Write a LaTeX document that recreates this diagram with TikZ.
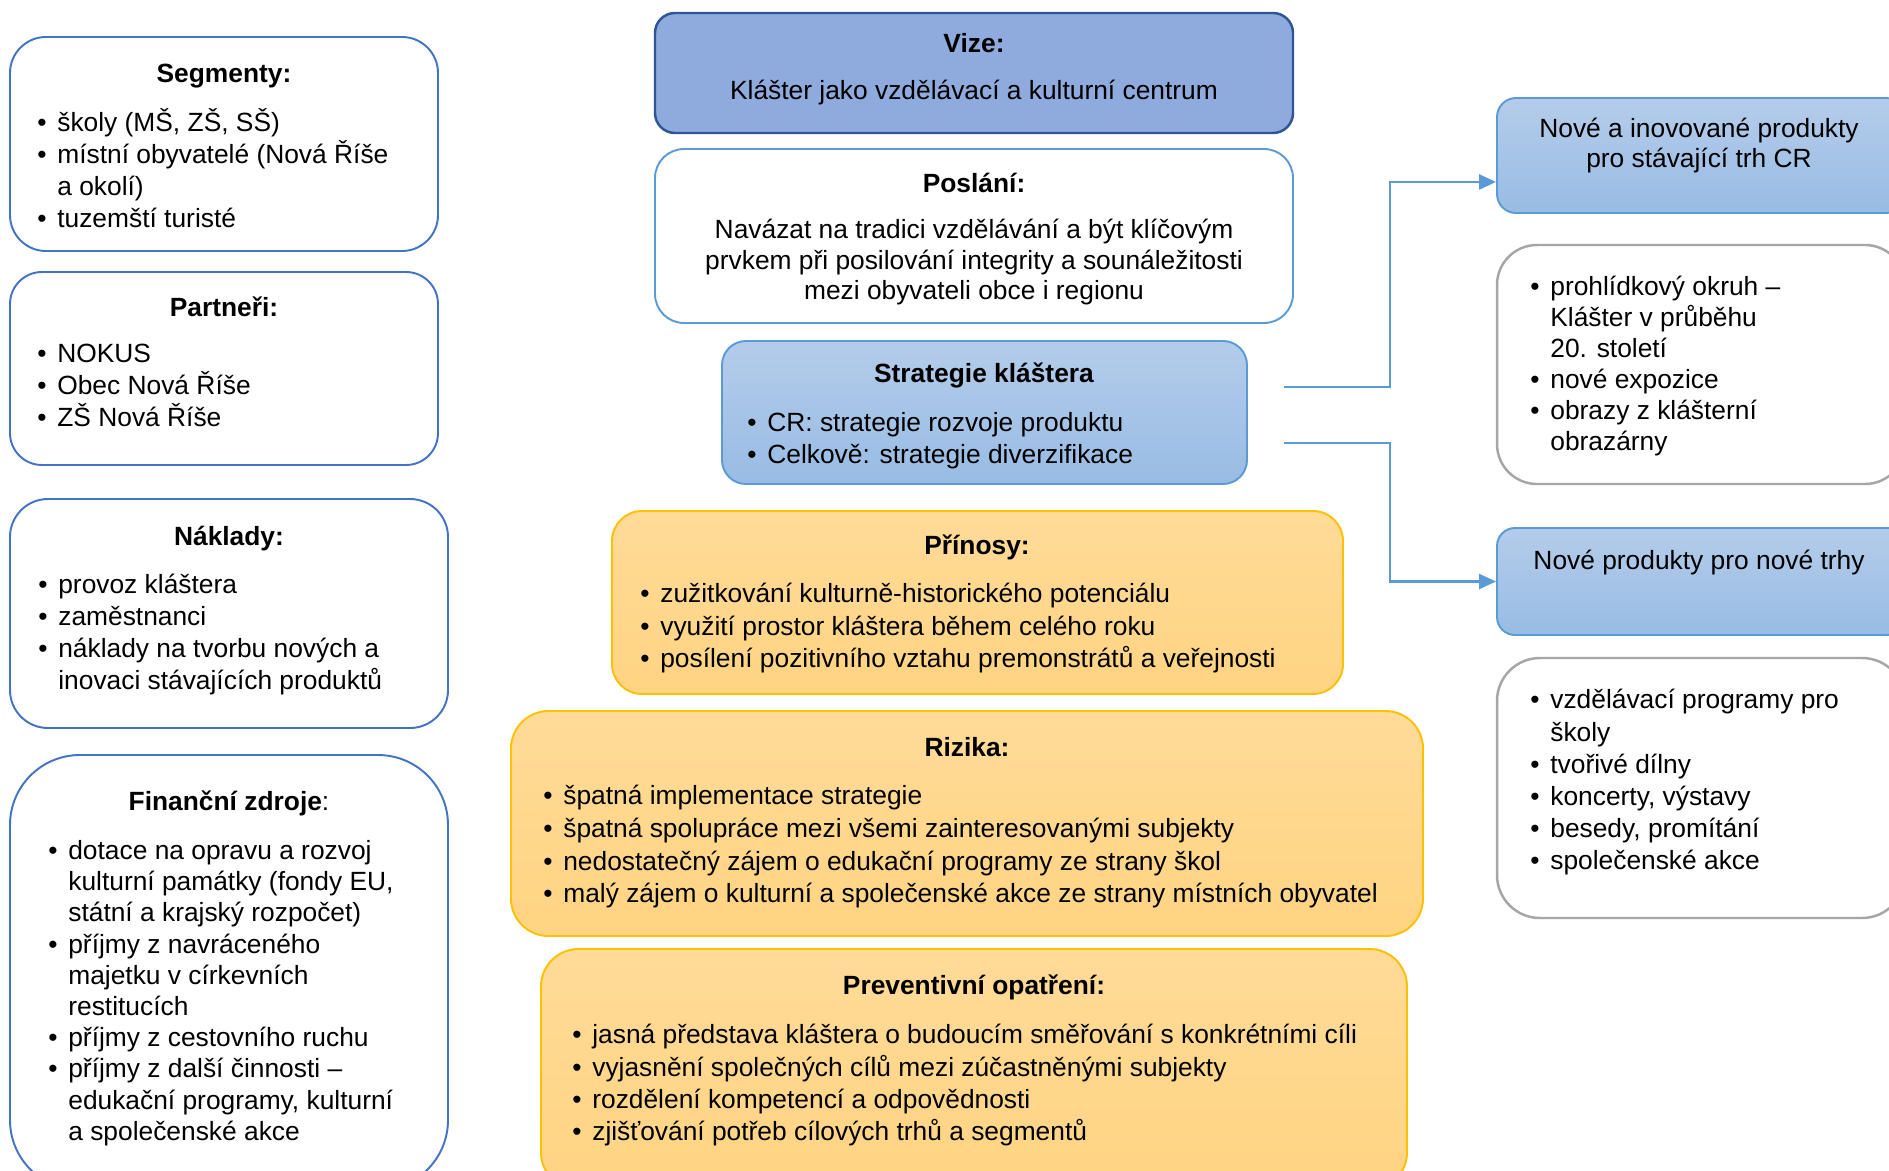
\documentclass[tikz,border=0pt]{standalone}
\usepackage{fontspec}
\setmainfont{Liberation Sans}
\usepackage{tikz}
\usetikzlibrary{calc,positioning,arrows.meta,fit}
\usepackage{xcolor}
\definecolor{myblue}{RGB}{68,114,196}
\definecolor{mylight}{RGB}{91,155,213}
\definecolor{mydark}{RGB}{47,85,151}
\definecolor{myvize}{RGB}{143,170,220}
\definecolor{mytop}{RGB}{180,204,234}
\definecolor{mybot}{RGB}{152,188,228}
\definecolor{myotop}{RGB}{255,219,152}
\definecolor{myobot}{RGB}{255,212,130}
\definecolor{mygold}{RGB}{255,192,0}
\definecolor{mygray}{RGB}{166,166,166}
\newcommand{\fs}{\fontsize{15}{18.2}\selectfont}
\newcommand{\bl}{\makebox[0.4cm][l]{•}}
\newcommand{\ind}{\hspace*{0.4cm}}

\begin{document}
\begin{tikzpicture}[x=0.02cm,y=-0.02cm,
  box/.style={draw, inner sep=0pt, line width=1.1pt},
  lbox/.style={box, draw=myblue, fill=white},
  bbox/.style={box, draw=mylight, top color=mytop, bottom color=mybot},
  obox/.style={box, draw=mygold, top color=myotop, bottom color=myobot},
  gbox/.style={box, draw=mygray, fill=white, line width=1.4pt},
  ttl/.style={anchor=base, inner sep=0pt, font=\bfseries\fs, yshift=-1.1pt},
  txt/.style={anchor=base, align=center, inner sep=0pt, font=\fs, yshift=-1.1pt},
  mtxt/.style={anchor=north, align=center, inner sep=0pt, font=\fs, yshift=10.2pt,
    execute at begin node=\rule{0pt}{16pt}},
  lst/.style={anchor=north west, align=left, inner sep=0pt, font=\fs, yshift=10.2pt,
    execute at begin node=\rule{0pt}{16pt}},
  conn/.style={draw=mylight, line width=1.4pt, -{Triangle[length=0.34cm,width=0.3cm]}}]
  \clip (0,0) rectangle (1889,1170);
  \fill[white] (0,0) rectangle (1889,1170);

  % left column
  \node[lbox, rounded corners=0.72cm, fit={(10,37)(438,251)}] (seg) {};
  \node[ttl] (segt) at (224,81) {Segmenty:};
  \node[lst] (segl) at (37,126) {\bl školy (MŠ, ZŠ, SŠ)\\\bl místní obyvatelé (Nová Říše\\\ind a okolí)\\\bl tuzemští turisté};

  \node[lbox, rounded corners=0.64cm, fit={(10,272)(438,465)}] (par) {};
  \node[ttl] (part) at (224,315) {Partneři:};
  \node[lst] (parl) at (37,362) {\bl NOKUS\\\bl Obec Nová Říše\\\bl ZŠ Nová Říše};

  \node[lbox, rounded corners=0.76cm, fit={(10,499)(448,728)}] (nak) {};
  \node[ttl] (nakt) at (229,544) {Náklady:};
  \node[lst] (nakl) at (38,592) {\bl provoz kláštera\\\bl zaměstnanci\\\bl náklady na tvorbu nových a\\\ind inovaci stávajících produktů};

  \node[lbox, rounded corners=1.4cm, fit={(10,755)(448,1190)}] (fin) {};
  \node[ttl] (fint) at (229,809) {Finanční zdroje\mdseries:};
  \node[lst, font=\fontsize{15}{17.75}\selectfont] (finl) at (48,858) {\bl dotace na opravu a rozvoj\\\ind kulturní památky (fondy EU,\\\ind státní a krajský rozpočet)\\\bl příjmy z navráceného\\\ind majetku v církevních\\\ind restitucích\\\bl příjmy z cestovního ruchu\\\bl příjmy z další činnosti –\\\ind edukační programy, kulturní\\\ind a společenské akce};

  % middle column
  \node[box, draw=mydark, fill=myvize, line width=1.4pt, rounded corners=0.4cm, fit={(655,13)(1293,133)}] (vize) {};
  \node[ttl] (vizet) at (974,51) {Vize:};
  \node[txt] (vizel) at (974,98) {Klášter jako vzdělávací a kulturní centrum};

  \node[box, draw=mylight, fill=white, rounded corners=0.58cm, fit={(655,149)(1293,323)}] (pos) {};
  \node[ttl] (post) at (974,191) {Poslání:};
  \node[mtxt, font=\fontsize{15}{17.4}\selectfont] (posl) at (974,237) {Navázat na tradici vzdělávání a být klíčovým\\prvkem při posilování integrity a sounáležitosti\\mezi obyvateli obce i regionu};

  \node[bbox, rounded corners=0.48cm, fit={(722,341)(1247,484)}] (str) {};
  \node[ttl] (strt) at (984,381) {Strategie kláštera};
  \node[lst] (strl) at (747,430) {\bl CR: strategie rozvoje produktu\\\bl Celkově: strategie diverzifikace};

  \node[obox, rounded corners=0.6cm, fit={(612,511)(1343,694)}] (pri) {};
  \node[ttl] (prit) at (977,553) {Přínosy:};
  \node[lst, font=\fontsize{15}{18.5}\selectfont] (pril) at (640,601) {\bl zužitkování kulturně-historického potenciálu\\\bl využití prostor kláštera během celého roku\\\bl posílení pozitivního vztahu premonstrátů a veřejnosti};

  \node[obox, rounded corners=0.75cm, fit={(511,711)(1423,936)}] (riz) {};
  \node[ttl] (rizt) at (967,755) {Rizika:};
  \node[lst, font=\fontsize{15}{18.6}\selectfont] (rizl) at (543,803) {\bl špatná implementace strategie\\\bl špatná spolupráce mezi všemi zainteresovanými subjekty\\\bl nedostatečný zájem o edukační programy ze strany škol\\\bl malý zájem o kulturní a společenské akce ze strany místních obyvatel};

  \node[obox, rounded corners=0.75cm, fit={(541,949)(1407,1190)}] (pre) {};
  \node[ttl] (pret) at (974,993) {Preventivní opatření:};
  \node[lst, font=\fontsize{15}{18.4}\selectfont] (prel) at (572,1042) {\bl jasná představa kláštera o budoucím směřování s konkrétními cíli\\\bl vyjasnění společných cílů mezi zúčastněnými subjekty\\\bl rozdělení kompetencí a odpovědnosti\\\bl zjišťování potřeb cílových trhů a segmentů};

  % right column
  \node[bbox, rounded corners=0.38cm, fit={(1497,98)(1905,213)}] (nip) {};
  \node[mtxt, font=\fontsize{15}{17}\selectfont] (nipt) at (1699,136) {Nové a inovované produkty\\pro stávající trh CR};

  \node[gbox, rounded corners=0.8cm, fit={(1497,245)(1905,484)}] (rb1) {};
  \node[lst, font=\fontsize{15}{17.6}\selectfont] (rb1l) at (1530,294) {\bl prohlídkový okruh –\\\ind Klášter v průběhu\\\ind 20. století\\\bl nové expozice\\\bl obrazy z klášterní\\\ind obrazárny};

  \node[bbox, rounded corners=0.36cm, fit={(1497,528)(1905,635)}] (npt) {};
  \node[txt] (nptt) at (1699,568) {Nové produkty pro nové trhy};

  \node[gbox, rounded corners=0.86cm, fit={(1497,658)(1905,918)}] (rb2) {};
  \node[lst, font=\fontsize{15}{18.3}\selectfont] (rb2l) at (1530,707) {\bl vzdělávací programy pro\\\ind školy\\\bl tvořivé dílny\\\bl koncerty, výstavy\\\bl besedy, promítání\\\bl společenské akce};

  % connectors
  \coordinate (s1) at (1284,387);
  \coordinate (s2) at (1284,443);
  \draw[conn] (s1) -- ++(106,0) |- ($(nip.south west)+(0,-32)$);
  \draw[conn] (s2) -- ++(106,0) |- (npt.west);
\end{tikzpicture}
\end{document}
